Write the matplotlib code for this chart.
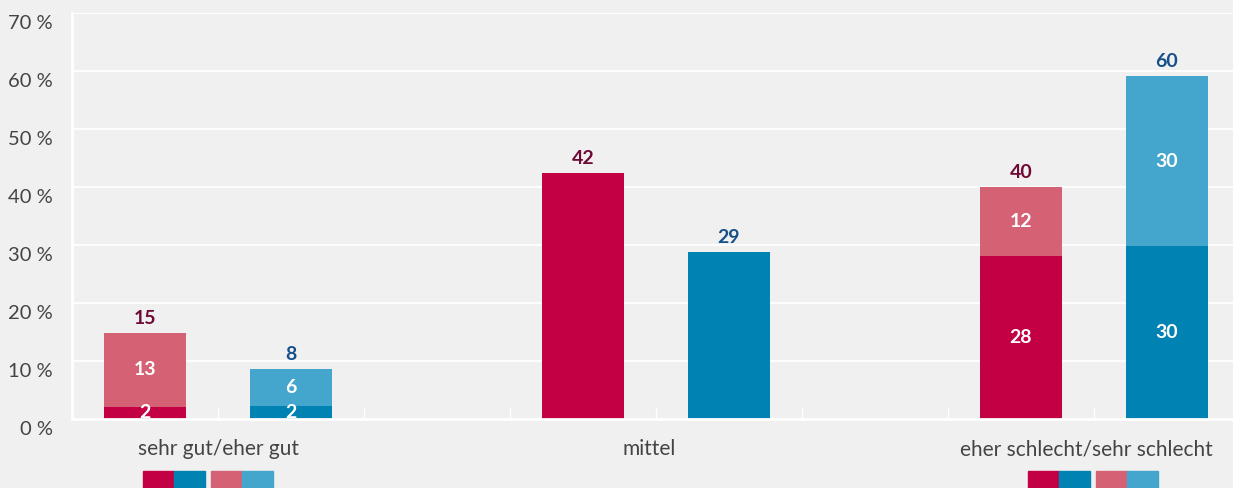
import matplotlib.pyplot as plt
from matplotlib.patches import Rectangle
from matplotlib.transforms import ScaledTranslation

plt.rcParams["font.family"] = ["Lato", "DejaVu Sans"]

categories = ["sehr gut/eher gut", "mittel", "eher schlecht/sehr schlecht"]

# Werte je Gruppe: unterer (dunkler) und oberer (heller) Anteil
female_base = [2.1, 42.4, 28.1]
female_top = [12.7, 0, 11.9]
male_base = [2.2, 28.8, 29.8]
male_top = [6.4, 0, 29.3]

female_base_lbl = ["2", "", "28"]
female_top_lbl = ["13", "", "12"]
male_base_lbl = ["2", "", "30"]
male_top_lbl = ["6", "", "30"]
female_total_lbl = ["15", "42", "40"]
male_total_lbl = ["8", "29", "60"]

yticks = [0, 10, 20, 30, 40, 50, 60, 70]

RED = "#c40044"
PINK = "#d46274"
BLUE = "#0082b3"
LBLUE = "#44a6cd"
RED_TXT = "#6e0a36"
BLUE_TXT = "#16508a"
GREY = "#444444"
BG = "#f0f0f0"

fig = plt.figure(figsize=(12.33, 4.88), dpi=100, facecolor=BG)
ax = fig.add_axes([72 / 1233, 69 / 488, 1168 / 1233, 406 / 488], facecolor=BG)

w = 0.56
fs_val = 14
for g in range(len(categories)):
    for pos, base, top, blbl, tlbl, tot, c1, c2, tc in [
        (3 * g, female_base[g], female_top[g], female_base_lbl[g],
         female_top_lbl[g], female_total_lbl[g], RED, PINK, RED_TXT),
        (3 * g + 1, male_base[g], male_top[g], male_base_lbl[g],
         male_top_lbl[g], male_total_lbl[g], BLUE, LBLUE, BLUE_TXT),
    ]:
        ax.bar(pos, base, width=w, color=c1, zorder=3)
        if top > 0:
            ax.bar(pos, top, bottom=base, width=w, color=c2, zorder=3)
        if blbl:
            ax.text(pos, base / 2, blbl, ha="center", va="center", color="white",
                    fontsize=fs_val, fontweight="bold", zorder=4)
        if tlbl:
            ax.text(pos, base + top / 2, tlbl, ha="center", va="center",
                    color="white", fontsize=fs_val, fontweight="bold", zorder=4)
        ax.text(pos, base + top + 1.1, tot, ha="center", va="bottom", color=tc,
                fontsize=fs_val, fontweight="bold", zorder=4)

ax.set_xlim(-0.5, 7.5)
ax.set_ylim(0, 70)
ax.set_yticks(yticks)
ax.set_yticklabels([f"{v} %" for v in yticks], fontsize=14.5, color=GREY)
ax.tick_params(axis="y", length=0, pad=14)
shift = ScaledTranslation(0, -6.5 / 72, fig.dpi_scale_trans)
for lbl in ax.get_yticklabels():
    lbl.set_transform(lbl.get_transform() + shift)
ax.grid(axis="y", color="white", linewidth=1.3, zorder=0)

ax.set_xticks([i + 0.5 for i in range(7)])
ax.set_xticklabels([])
ax.tick_params(axis="x", direction="in", length=9, width=1, color="white")

label_pos = [0.5, 3.45, 6.45]
for name, xp in zip(categories, label_pos):
    ax.text(xp, -5.2, name, ha="center", va="center", fontsize=15, color=GREY)

for s in ["top", "right"]:
    ax.spines[s].set_visible(False)
for s in ["left", "bottom"]:
    ax.spines[s].set_color("white")
    ax.spines[s].set_linewidth(2)
    ax.spines[s].set_zorder(5)

# Legendenkästchen am unteren Rand (abgeschnitten wie im Original)
for x0 in [143, 1028]:
    for i, c in enumerate([RED, BLUE]):
        fig.patches.append(Rectangle(((x0 + 31 * i) / 1233, 0), 31 / 1233, 17 / 488,
                                     transform=fig.transFigure, color=c))
    for i, c in enumerate([PINK, LBLUE]):
        fig.patches.append(Rectangle(((x0 + 68 + 31 * i) / 1233, 0), 31 / 1233, 17 / 488,
                                     transform=fig.transFigure, color=c))

fig.savefig("out.png", dpi=100, facecolor=BG)
